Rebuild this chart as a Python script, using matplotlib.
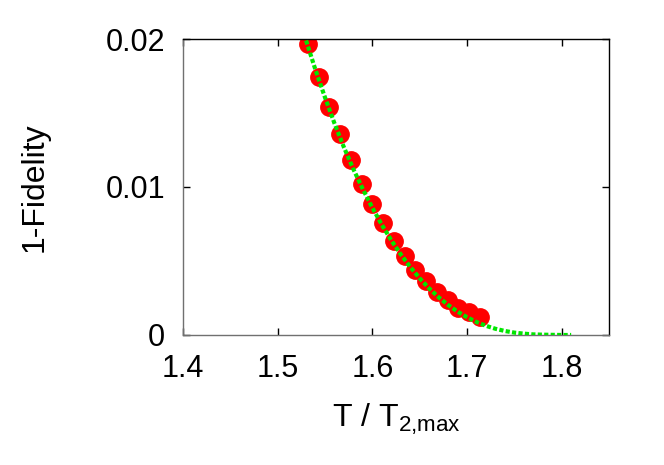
import numpy as np
import matplotlib.pyplot as plt

plt.rcParams['font.family'] = ['Liberation Sans', 'DejaVu Sans']

# measured points
t_ratio = [1.5319, 1.5432, 1.5544, 1.5660, 1.5776, 1.5887, 1.5997, 1.6113, 1.6228,
           1.6340, 1.6453, 1.6568, 1.6679, 1.6795, 1.6905, 1.7018, 1.7133]
infid = [0.01966, 0.01745, 0.01543, 0.01356, 0.01182, 0.01022, 0.00885, 0.00755, 0.00637,
         0.00534, 0.00439, 0.00365, 0.00293, 0.00236, 0.00180, 0.00153, 0.00120]

# fit curve
fit_x = [1.530, 1.540, 1.550, 1.560, 1.570, 1.580, 1.590, 1.600, 1.610, 1.620, 1.630,
         1.640, 1.650, 1.660, 1.670, 1.680, 1.690, 1.700, 1.710, 1.720, 1.730, 1.740,
         1.750, 1.760, 1.770, 1.780, 1.790, 1.800, 1.810]
fit_y = [0.01990, 0.01790, 0.01605, 0.01430, 0.01268, 0.01120, 0.00985, 0.00860, 0.00745,
         0.00640, 0.00545, 0.00460, 0.00383, 0.00315, 0.00255, 0.00203, 0.00158, 0.00120,
         0.00088, 0.00062, 0.00042, 0.00027, 0.00016, 0.00009, 0.00004, 0.00002, 0.00001,
         0.0, 0.0]

fig = plt.figure(figsize=(6.64, 4.65), dpi=100)
ax = fig.add_axes([0.2756, 0.2796, 0.6416, 0.6365])

ax.plot(t_ratio, infid, 'o', color='#ff0000', markersize=12.5, zorder=2)
ax.plot(fit_x, fit_y, color='#00e600', linewidth=3.0, dashes=(1.0, 0.55),
        dash_capstyle='butt', zorder=3)

ax.set_xlim(1.4, 1.85)
ax.set_ylim(0, 0.02)
ax.set_xticks([1.4, 1.5, 1.6, 1.7, 1.8])
ax.set_xticklabels(['1.4', '1.5', '1.6', '1.7', '1.8'])
ax.set_yticks([0, 0.01, 0.02])
ax.set_yticklabels(['0', '0.01', '0.02'])
ax.tick_params(direction='in', top=True, right=True, length=5, width=1,
               labelsize=22)
ax.tick_params(axis='x', pad=14)
ax.tick_params(axis='y', pad=13)

for s in ['left', 'bottom']:
    ax.spines[s].set_color('#707070')
for s in ['top', 'right']:
    ax.spines[s].set_color('black')
for s in ax.spines.values():
    s.set_linewidth(1)

ax.set_xlabel('T / T$_{\\mathregular{2{,}max}}$', fontsize=23, labelpad=12)
ax.set_ylabel('1-Fidelity', fontsize=23, labelpad=40)

plt.savefig('out.png')
